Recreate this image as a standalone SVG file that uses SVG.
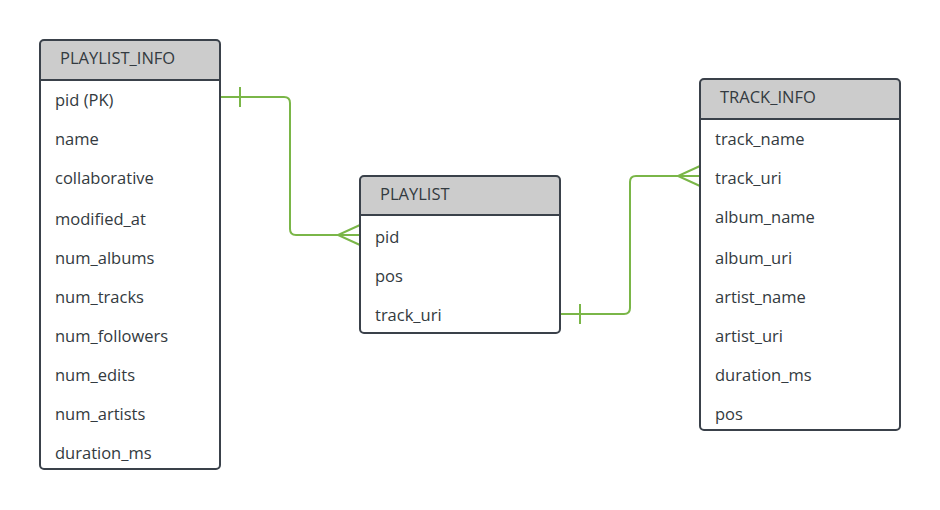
<svg xmlns="http://www.w3.org/2000/svg" width="940" height="510" viewBox="0 0 940 510">
<style>
.box{fill:#ffffff;stroke:#3a414a;stroke-width:2}
.hdr{fill:#cccccc}
.sep{stroke:#3a414a;stroke-width:2}
.t{font-family:"Open Sans","Noto Sans",sans-serif;font-size:16.5px;fill:#333a40;dominant-baseline:central}
.c{fill:none;stroke:#7ab648;stroke-width:2}
</style>
<rect width="940" height="510" fill="#ffffff"/>
<g id="connectors">
<path class="c" d="M220,97 H284 Q290,97 290,103 V229 Q290,235 296,235 H360"/>
<path class="c" d="M240,87 V107"/>
<path class="c" d="M360,225 L338,235 L360,245"/>
<path class="c" d="M560,314 H624 Q630,314 630,308 V182 Q630,176 636,176 H700"/>
<path class="c" d="M580,304 V324"/>
<path class="c" d="M700,166 L678,176 L700,186"/>
</g>
<g id="playlist_info">
<path class="hdr" d="M44,40 H216 Q220,40 220,44 V80 H40 V44 Q40,40 44,40 Z"/>
<rect class="box" x="40" y="40" width="180" height="429" rx="4" style="fill:none"/>
<line class="sep" x1="40" y1="80" x2="220" y2="80"/>
<text class="t" x="60" y="57">PLAYLIST_INFO</text>
<text class="t" x="55" y="99">pid (PK)</text>
<text class="t" x="55" y="138">name</text>
<text class="t" x="55" y="177">collaborative</text>
<text class="t" x="55" y="218">modified_at</text>
<text class="t" x="55" y="257">num_albums</text>
<text class="t" x="55" y="296">num_tracks</text>
<text class="t" x="55" y="335">num_followers</text>
<text class="t" x="55" y="374">num_edits</text>
<text class="t" x="55" y="413">num_artists</text>
<text class="t" x="55" y="452">duration_ms</text>
</g>
<g id="playlist">
<rect x="360" y="176" width="200" height="157" rx="4" fill="#ffffff"/>
<path class="hdr" d="M364,176 H556 Q560,176 560,180 V215 H360 V180 Q360,176 364,176 Z"/>
<rect class="box" x="360" y="176" width="200" height="157" rx="4" style="fill:none"/>
<line class="sep" x1="360" y1="215" x2="560" y2="215"/>
<text class="t" x="380" y="193">PLAYLIST</text>
<text class="t" x="375" y="236">pid</text>
<text class="t" x="375" y="275">pos</text>
<text class="t" x="375" y="314">track_uri</text>
</g>
<g id="track_info">
<rect x="700" y="79" width="200" height="351" rx="4" fill="#ffffff"/>
<path class="hdr" d="M704,79 H896 Q900,79 900,83 V119 H700 V83 Q700,79 704,79 Z"/>
<rect class="box" x="700" y="79" width="200" height="351" rx="4" style="fill:none"/>
<line class="sep" x1="700" y1="119" x2="900" y2="119"/>
<text class="t" x="720" y="96">TRACK_INFO</text>
<text class="t" x="715" y="138">track_name</text>
<text class="t" x="715" y="177">track_uri</text>
<text class="t" x="715" y="216">album_name</text>
<text class="t" x="715" y="257">album_uri</text>
<text class="t" x="715" y="296">artist_name</text>
<text class="t" x="715" y="335">artist_uri</text>
<text class="t" x="715" y="374">duration_ms</text>
<text class="t" x="715" y="413">pos</text>
</g>
</svg>
